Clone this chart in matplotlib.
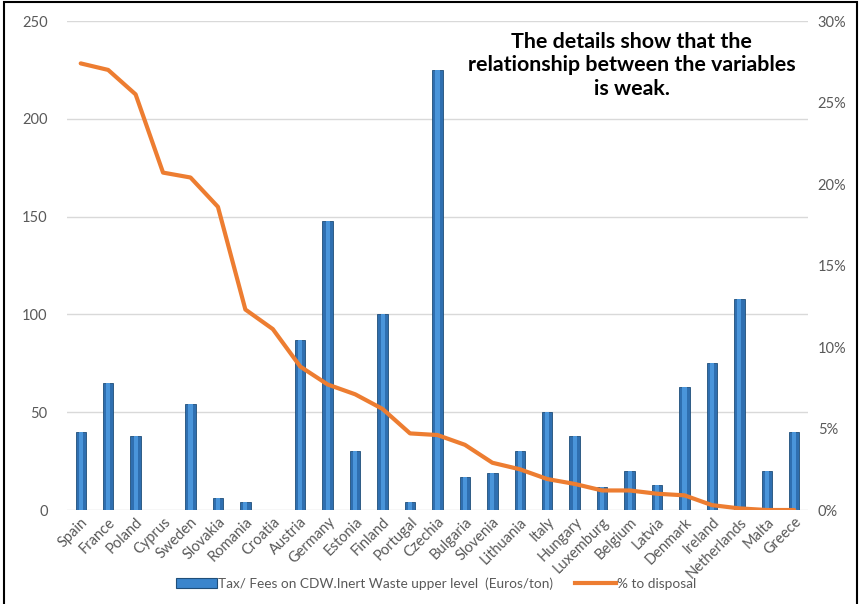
import matplotlib
matplotlib.use("Agg")
import matplotlib.pyplot as plt
from matplotlib.patches import Rectangle
from matplotlib.ticker import PercentFormatter
from matplotlib.lines import Line2D

countries = ["Spain", "France", "Poland", "Cyprus", "Sweden", "Slovakia", "Romania",
             "Croatia", "Austria", "Germany", "Estonia", "Finland", "Portugal", "Czechia",
             "Bulgaria", "Slovenia", "Lithuania", "Italy", "Hungary", "Luxemburg",
             "Belgium", "Latvia", "Denmark", "Ireland", "Netherlands", "Malta", "Greece"]

tax_upper = [40, 65, 38, 0, 54, 6, 4, 0, 87, 148, 30, 100, 4, 225,
             17, 19, 30, 50, 38, 12, 20, 13, 63, 75, 108, 20, 40]

pct_disposal = [27.4, 27.0, 25.5, 20.7, 20.4, 18.6, 12.3, 11.1, 8.8, 7.7, 7.1, 6.2, 4.7, 4.6,
                4.0, 2.9, 2.5, 1.9, 1.6, 1.2, 1.2, 1.0, 0.9, 0.3, 0.1, 0.0, 0.0]

left_ticks = [0, 50, 100, 150, 200, 250]
right_ticks = [0, 5, 10, 15, 20, 25, 30]

FONT = ["Lato", "DejaVu Sans"]
GREY = "#595959"

fig = plt.figure(figsize=(8.6, 6.04), dpi=100)
fig.patch.set_facecolor("white")
ax = fig.add_axes([0.0779, 0.1556, 0.8616, 0.8096])
x = list(range(len(countries)))

# bars: dark outer body with a lighter centre stripe for a shaded look
ax.bar(x, tax_upper, width=0.38, color="#2F6FB0", edgecolor="#1F4E79", linewidth=0.6, zorder=2)
ax.bar(x, tax_upper, width=0.15, color="#4A95DA", linewidth=0, zorder=3)

ax.set_xlim(-0.5, len(countries) - 0.5)
ax.set_ylim(0, 250)
ax.set_yticks(left_ticks)
ax.grid(axis="y", color="#D9D9D9", linewidth=1.0, zorder=0)
ax.set_axisbelow(True)
for s in ax.spines.values():
    s.set_visible(False)
ax.tick_params(axis="both", length=0, colors=GREY, labelsize=10.5)
ax.tick_params(axis="y", pad=14)
ax.set_xticks(x)
ax.set_xticklabels(countries, rotation=45, ha="right", rotation_mode="anchor",
                   fontfamily=FONT, fontsize=10.5, color=GREY)
for lab in ax.get_yticklabels():
    lab.set_fontfamily(FONT)

ax2 = ax.twinx()
ax2.plot(x, pct_disposal, color="#ED7D31", linewidth=3.0, solid_joinstyle="round",
         solid_capstyle="round", zorder=4)
ax2.set_ylim(0, 30)
ax2.set_yticks(right_ticks)
ax2.yaxis.set_major_formatter(PercentFormatter(decimals=0))
for s in ax2.spines.values():
    s.set_visible(False)
ax2.tick_params(axis="y", length=0, colors=GREY, labelsize=10.5, pad=7)
for lab in ax2.get_yticklabels():
    lab.set_fontfamily(FONT)

ax2.text(0.762, 0.978, "The details show that the\nrelationship between the variables\nis weak.",
         transform=ax.transAxes, ha="center", va="top", fontsize=15.4,
         fontweight="bold", fontfamily=FONT, color="black", linespacing=1.22)

handles = [Rectangle((0, 0), 1, 1, facecolor="#3A85CC", edgecolor="#1F4E79", linewidth=0.8),
           Line2D([0], [0], color="#ED7D31", linewidth=3.0)]
labels = ["Tax/ Fees on CDW.Inert Waste upper level  (Euros/ton)", "% to disposal"]
fig.legend(handles, labels, loc="center", bbox_to_anchor=(0.507, 0.034), ncol=2,
           frameon=False, prop={"family": FONT, "size": 9.8}, labelcolor=GREY,
           handlelength=3.0, handletextpad=0.1, columnspacing=1.6)

fig.patches.append(Rectangle((0.005, -0.01), 0.992, 1.007, transform=fig.transFigure,
                             fill=False, edgecolor="black", linewidth=1.5))

fig.savefig("out.png", dpi=100, facecolor="white")
